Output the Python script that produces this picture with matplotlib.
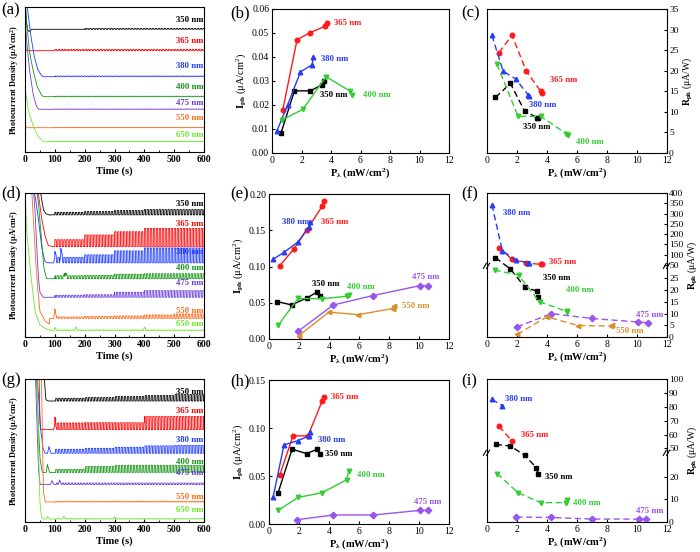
import numpy as np
import matplotlib
matplotlib.use('Agg')
import matplotlib.pyplot as plt
from matplotlib.ticker import MultipleLocator, NullLocator, FormatStrFormatter

plt.rcParams['font.family'] = ['Liberation Serif', 'DejaVu Serif']
plt.rcParams['mathtext.fontset'] = 'custom'
plt.rcParams['mathtext.rm'] = 'Liberation Serif'
plt.rcParams['mathtext.bf'] = 'Liberation Serif:bold'
plt.rcParams['mathtext.it'] = 'Liberation Serif:italic'

# ---------------- data ----------------
WAVES = ['350 nm', '365 nm', '380 nm', '400 nm', '475 nm', '550 nm', '650 nm']
TS_COLORS = ['#000000', '#ff0000', '#1f3cff', '#129412', '#6a3ddb', '#ff6a1a', '#6fe82a']
SC_COLORS = {'350': '#000000', '365': '#ff1a1a', '380': '#2a3cf0', '400': '#33cc33',
             '475': '#9955ee', '550': '#d9902c'}
SC_MARK = {'350': 's', '365': 'o', '380': '^', '400': 'v', '475': 'D', '550': '<'}
CHOP_PERIOD = 10.0  # s, light on/off period

# time series (a): transient points (t, value), plateau level, on/off amplitude per 100 s
A_T = [[1, 3, 8, 14, 22], [0.5, 3, 6], [5, 8, 19, 30, 42, 55, 62], [2, 4, 14, 26, 40, 55, 62],
       [2, 5, 15, 27, 38, 46], [0.5, 2, 3], [1, 11, 28, 45, 62]]
A_V = [[150, 135, 122, 120.5, 122.7], [120, 102, 101.3], [150, 144, 117, 97, 83, 76.5, 75.3],
       [145, 135, 102, 83, 66, 57, 55.3], [125, 112, 82, 58, 46, 42.7], [55, 26, 24.3],
       [62, 42, 25.3, 15.3, 10.3]]
A_BASE = [122.7, 101.3, 75.3, 55.3, 42.7, 24.3, 10.3]
A_AMP = [[0, 0, 0.8, 0.8, 0.8, 0.8], [0, 1.3, 1.3, 1.3, 1.3, 1.3], [0, 0.7, 0.7, 0.7, 0.7, 0.7],
         [0, 0.5, 0.5, 0.5, 0.5, 0.5], [0, 0.3, 0.3, 0.3, 0.3, 0.3], [0, 0.3, 0.3, 0.3, 0.3, 0.3],
         [0, 0.3, 0.3, 0.3, 0.3, 0.3]]
A_BUMPS = [[], [], [], [], [], [], []]
A_LABEL_Y = [132, 111, 86, 64.7, 49.3, 33.7, 17]

# (d)
D_T = [[50, 55, 62, 70, 84], [42, 45, 56, 67, 78, 95], [28, 35, 45, 56, 67, 75],
       [38, 45, 55, 63, 72], [28, 33, 39, 45, 50, 61], [22, 28, 34, 42, 50, 67, 82],
       [0, 5, 17, 34, 50, 67, 84]]
D_V = [[150, 140, 128, 124, 122.7], [150, 144, 119, 102, 92, 91], [150, 140, 119, 90, 76, 74.7],
       [150, 135, 100, 70, 58.7], [150, 130, 92, 60, 45, 40], [150, 120, 86, 50, 26, 16, 13],
       [150, 110, 69, 25, 12, 8.7, 7]]
D_BASE = [123, 91, 74.7, 58.7, 40, 18.7, 6.5]
D_AMP = [[0, 2.5, 3.3, 4.3, 5.3, 5.3], [0, 7, 11.7, 15, 18.3, 18.3], [0, 5.5, 8, 12, 15, 15],
         [0, 3, 3.3, 4.5, 5, 5], [0, 2, 2.5, 5, 6.7, 6.7], [0, 1.5, 2, 2.5, 3.5, 4.5],
         [0, 0.6, 0.6, 0.6, 0.6, 0.6]]
D_BUMPS = [[], [], [(100, 6), (120, 9)], [(134, 5)], [], [(100, 8)], [(100, 2.5), (170, 3), (400, 3)]]
D_LABEL_Y = [134.3, 113.7, 86, 69.7, 54.3, 26.3, 13]

# (g)
G_T = [[64, 67, 70, 78], [47, 50, 53], [40, 45, 52, 60, 67], [38, 43, 50, 58], [35, 40, 45, 50],
       [55, 58, 62, 68], [40, 45, 50, 55, 60]]
G_V = [[150, 135, 124, 122.7], [150, 100, 93.7], [150, 130, 95, 75, 70], [150, 110, 65, 50.3],
       [150, 100, 55, 40], [150, 90, 30, 20.3], [150, 80, 20, 5, 3]]
G_BASE = [122.7, 93.7, 69.7, 50.3, 38, 20.3, 3]
G_AMP = [[0, 2.7, 3.5, 4.5, 5.5, 6.5], [0, 6.7, 7, 7, 13.3, 13.3], [0, 4, 5, 6, 7.5, 8],
         [0, 3, 6, 7, 7, 7], [0, 1.5, 1.5, 1.5, 1.5, 1.5], [0, 0.7, 0.7, 0.7, 0.7, 0.7],
         [0, 0.4, 0.4, 0.4, 0.4, 0.4]]
G_BUMPS = [[], [(100, 6)], [(80, 7)], [(75, 8)], [(90, 4), (115, 3)], [], [(75, 2.5), (130, 2.5), (300, 2)]]
G_LABEL_Y = [132, 113, 83, 61.3, 49.7, 25.3, 11.7]

# (b) Iph vs P
B_X = {'350': [0.61, 1.52, 2.61, 3.38, 3.51], '365': [0.73, 1.7, 2.6, 3.6, 3.72],
       '380': [0.32, 1.07, 1.93, 2.72, 2.8], '400': [0.66, 2.09, 3.67, 5.31, 5.45]}
B_Y = {'350': [0.0083, 0.0259, 0.0259, 0.0284, 0.0298], '365': [0.018, 0.0472, 0.0502, 0.0528, 0.0542],
       '380': [0.009, 0.0202, 0.0338, 0.0368, 0.0398], '400': [0.0137, 0.0182, 0.0318, 0.0257, 0.0242]}
# (c) Rph vs P
C_X = {'350': [0.56, 1.56, 2.51, 3.33, 3.4], '365': [0.8, 1.67, 2.62, 3.58, 3.69],
       '380': [0.33, 1.07, 1.91, 2.73, 2.78], '400': [0.66, 2.07, 3.58, 5.29, 5.4]}
C_Y = {'350': [13.5, 16.9, 10.2, 8.6, 8.6], '365': [24.4, 28.6, 19.9, 15.0, 14.7],
       '380': [28.6, 19.9, 18.0, 14.2, 13.8], '400': [21.6, 8.9, 8.9, 4.7, 4.3]}
# (e)
E_X = {'350': [0.56, 1.51, 2.56, 3.23, 3.43], '365': [0.71, 1.65, 2.54, 3.54, 3.67],
       '380': [0.27, 1.0, 1.94, 2.67, 2.72], '400': [0.62, 1.94, 3.54, 5.2, 5.32],
       '475': [1.94, 4.28, 6.95, 10.07, 10.6], '550': [1.98, 3.99, 5.95, 8.24, 8.35]}
E_Y = {'350': [0.0515, 0.047, 0.057, 0.065, 0.060], '365': [0.101, 0.124, 0.151, 0.183, 0.191],
       '380': [0.110, 0.1195, 0.134, 0.155, 0.161], '400': [0.019, 0.056, 0.0556, 0.059, 0.0607],
       '475': [0.0106, 0.0469, 0.060, 0.0736, 0.0736], '550': [0.0046, 0.037, 0.0336, 0.042, 0.046]}
# (f)
F_X = {'350': [0.56, 1.56, 2.5, 3.33, 3.4], '365': [0.8, 1.67, 2.6, 3.58, 3.69],
       '380': [0.33, 1.02, 1.91, 2.73, 2.8], '400': [0.5, 2.1, 3.5, 5.3, 5.35],
       '475': [2.0, 4.29, 7.0, 10.07, 10.7], '550': [2.0, 4.0, 6.07, 8.24, 8.36]}
F_Y = {'350': [86, 29, 21.5, 19.5, 17.2], '365': [135, 77, 60, 53, 53],
       '380': [343, 120, 74, 61, 60], '400': [28.6, 26.4, 15, 11, 10.8],
       '475': [4.3, 10, 7.9, 6.4, 6.1], '550': [1.1, 8.6, 4.9, 4.7, 5.0]}
# (h)
H_X = {'350': [0.6, 1.54, 2.5, 3.23, 3.39], '365': [0.71, 1.6, 2.6, 3.54, 3.67],
       '380': [0.27, 1.0, 1.94, 2.67, 2.74], '400': [0.62, 1.94, 3.54, 5.17, 5.32],
       '475': [1.89, 4.28, 6.95, 10.07, 10.6]}
H_Y = {'350': [0.0322, 0.0779, 0.0734, 0.0779, 0.0734], '365': [0.0506, 0.0918, 0.0918, 0.128, 0.1327],
       '380': [0.0277, 0.0824, 0.0869, 0.0918, 0.0963], '400': [0.0142, 0.0277, 0.0326, 0.046, 0.0554],
       '475': [0.0045, 0.0094, 0.0094, 0.0142, 0.0142]}
# (i)
I_X = {'350': [0.58, 1.56, 2.51, 3.29, 3.4], '365': [0.8, 1.67], '380': [0.33, 1.02],
       '400': [0.67, 2.07, 3.58, 5.24, 5.33], '475': [1.96, 4.29, 7.0, 10.1, 10.6]}
I_Y = {'350': [52.9, 51.7, 29.6, 24.1, 21.5], '365': [66, 55.3], '380': [85.3, 80.8],
       '400': [21.5, 13, 8.6, 8.6, 9.6], '475': [2.2, 2.0, 1.3, 1.3, 1.3]}

# label positions (x, y)
B_LAB = {'365': (4.2, 0.0543), '380': (3.3, 0.039), '350': (3.25, 0.0242), '400': (6.2, 0.024)}
C_LAB = {'365': (4.2, 17.7), '380': (2.8, 11.6), '350': (2.4, 6.3), '400': (5.9, 2.7)}
E_LAB = {'380': (0.9, 0.162), '365': (3.45, 0.161), '350': (2.85, 0.076), '400': (5.2, 0.072),
         '475': (9.5, 0.086), '550': (8.9, 0.045)}
F_LAB = {'380': (1.07, 302), '365': (4.13, 63), '350': (3.73, 25.3), '400': (5.24, 20),
         '475': (9.9, 9.3), '550': (8.6, 2.6)}
H_LAB = {'365': (4.16, 0.132), '380': (3.27, 0.0876), '350': (3.76, 0.0727), '400': (5.88, 0.0513),
         '475': (9.69, 0.0225)}
I_LAB = {'380': (1.22, 85.3), '365': (2.24, 59.6), '350': (3.84, 20), '400': (5.73, 8.6),
         '475': (9.9, 4.9)}

# ---------------- figure ----------------
fig = plt.figure(figsize=(7, 5.52), dpi=100)


def px_axes(l, r, t, b):
    return fig.add_axes([l / 700, 1 - b / 552, (r - l) / 700, (b - t) / 552])


tgrid = np.arange(0, 600.001, 0.25)


def trace(T, V, base, amps, bumps):
    T = np.asarray(T, float)
    V = np.asarray(V, float)
    y = np.full(tgrid.shape, base, float)
    m = tgrid <= T[-1]
    y[m] = np.interp(tgrid[m], T, V)
    seg = np.minimum((tgrid // 100).astype(int), 5)
    amp = np.asarray(amps, float)[seg]
    on = (np.floor((tgrid - T[-1]) / (CHOP_PERIOD / 2)) % 2) == 1
    y = y + np.where(tgrid > T[-1], amp * on, 0.0)
    for tb, hb in bumps:
        y = y + np.interp(tgrid, [tb - 4, tb, tb + 7], [0, hb, 0])
    keep = tgrid >= T[0]
    return tgrid[keep], y[keep]


def ts_panel(box, Ts, Vs, bases, amps, bumps, laby, letter, lpos):
    ax = px_axes(*box)
    for i in range(7):
        x, y = trace(Ts[i], Vs[i], bases[i], amps[i], bumps[i])
        ax.plot(x, y, color=TS_COLORS[i], lw=0.6)
        ax.text(598, laby[i], WAVES[i], color=TS_COLORS[i], fontsize=6.3, fontweight='bold',
                ha='right', va='center')
    ax.set_xlim(0, 600)
    ax.set_ylim(0, 145)
    ax.set_yticks([])
    ax.xaxis.set_major_locator(MultipleLocator(100))
    ax.xaxis.set_minor_locator(MultipleLocator(50))
    ax.tick_params(axis='x', which='both', direction='in', labelsize=7, length=2.5, pad=2)
    ax.tick_params(axis='x', which='minor', length=1.5)
    for lab in ax.get_xticklabels():
        lab.set_fontweight('bold')
    ax.set_xlabel('Time (s)', fontsize=7.5, fontweight='bold', labelpad=2)
    ax.set_ylabel('Photocurrent Density (μA/cm$^{\\mathbf{2}}$)', fontsize=5.9, fontweight='bold', labelpad=3)
    fig.text(lpos[0] / 700, 1 - lpos[1] / 552, letter, fontsize=12, ha='left', va='center')
    return ax


ts_panel((25, 204, 7, 152), A_T, A_V, A_BASE, A_AMP, A_BUMPS, A_LABEL_Y, '(a)', (1, 10))
ts_panel((25, 204, 193, 337), D_T, D_V, D_BASE, D_AMP, D_BUMPS, D_LABEL_Y, '(d)', (1, 193))
ts_panel((25, 204, 379, 522), G_T, G_V, G_BASE, G_AMP, G_BUMPS, G_LABEL_Y, '(g)', (1, 380))


def make_scale(vals, fracs):
    vals = np.asarray(vals, float)
    fracs = np.asarray(fracs, float)

    def conv(v, a, b):
        v = np.asarray(v, float)
        out = np.interp(v, a, b)
        s0 = (b[1] - b[0]) / (a[1] - a[0])
        s1 = (b[-1] - b[-2]) / (a[-1] - a[-2])
        out = np.where(v < a[0], b[0] + (v - a[0]) * s0, out)
        out = np.where(v > a[-1], b[-1] + (v - a[-1]) * s1, out)
        return out

    return (lambda v: conv(v, vals, fracs)), (lambda f: conv(f, fracs, vals))


def sc_panel(box, X, Y, LAB, dashed, letter, lpos, right=False):
    ax = px_axes(*box)
    for k in X:
        kw = dict(color=SC_COLORS[k], marker=SC_MARK[k], ms=3.3, lw=1.0)
        if dashed:
            kw.update(ls='--', dashes=(4.5, 2.5))
        ax.plot(X[k], Y[k], **kw)
    for k, (lx, ly) in LAB.items():
        ax.text(lx, ly, k + ' nm', color=SC_COLORS[k], fontsize=6.3, fontweight='bold',
                ha='left', va='center')
    ax.set_xlim(0, 12)
    ax.xaxis.set_major_locator(MultipleLocator(2))
    ax.tick_params(which='both', direction='in', labelsize=7, length=2.5, pad=2)
    ax.set_xlabel('P$_{\\mathbf{λ}}$ (mW/cm$^{\\mathbf{2}}$)', fontsize=7.5, fontweight='bold', labelpad=1)
    if right:
        ax.yaxis.tick_right()
        ax.yaxis.set_label_position('right')
        ax.tick_params(axis='y', pad=1.5, labelsize=6.8)
        ax.set_ylabel('$\\mathbf{R_{ph}}$ (μA/W)', fontsize=7, labelpad=1)
    else:
        ax.set_ylabel('$\\mathbf{I_{ph}}$ (μA/cm$^{2}$)', fontsize=7.5, labelpad=2)
    fig.text(lpos[0] / 700, 1 - lpos[1] / 552, letter, fontsize=12, ha='left', va='center')
    return ax


def break_marks(ax, yf):
    for x0 in (0, 1):
        for dx in (-0.012, 0.006):
            ax.plot([x0 + dx - 0.008, x0 + dx + 0.008], [yf - 0.018, yf + 0.018],
                    transform=ax.transAxes, color='k', lw=0.8, clip_on=False)


# (b)
ax = sc_panel((272, 449, 9, 153), B_X, B_Y, B_LAB, False, '(b)', (230, 13))
ax.set_ylim(0, 0.06)
ax.yaxis.set_major_locator(MultipleLocator(0.01))
ax.yaxis.set_major_formatter(FormatStrFormatter('%.2f'))

# (c)
ax = sc_panel((487, 667, 9, 153), C_X, C_Y, C_LAB, True, '(c)', (461, 13), right=True)
ax.set_ylim(0, 35)
ax.yaxis.set_major_locator(MultipleLocator(5))

# (e)
ax = sc_panel((269, 449, 194, 339), E_X, E_Y, E_LAB, False, '(e)', (230, 194))
ax.set_ylim(0, 0.20)
ax.yaxis.set_major_locator(MultipleLocator(0.05))
ax.yaxis.set_major_formatter(FormatStrFormatter('%.2f'))

# (f)
ax = sc_panel((487, 667, 193, 337), F_X, F_Y, F_LAB, True, '(f)', (461, 194), right=True)
fw, iv = make_scale([0, 30, 50, 400], [0, 0.488, 0.5, 1.0])
ax.set_yscale('function', functions=(fw, iv))
ax.set_ylim(0, 400)
ax.set_yticks([0, 5, 10, 15, 20, 25, 50, 100, 150, 200, 250, 300, 350, 400])
ax.yaxis.set_minor_locator(NullLocator())
break_marks(ax, 0.494)

# (h)
ax = sc_panel((269, 449, 380, 524), H_X, H_Y, H_LAB, False, '(h)', (230, 381))
ax.set_ylim(0, 0.15)
ax.yaxis.set_major_locator(MultipleLocator(0.05))
ax.yaxis.set_major_formatter(FormatStrFormatter('%.2f'))

# (i)
ax = sc_panel((487, 667, 379, 522), I_X, I_Y, I_LAB, True, '(i)', (461, 381), right=True)
fw2, iv2 = make_scale([0, 30, 48, 100], [0, 0.473, 0.495, 1.0])
ax.set_yscale('function', functions=(fw2, iv2))
ax.set_ylim(0, 100)
ax.set_yticks([0, 10, 20, 50, 60, 70, 80, 90, 100])
ax.yaxis.set_minor_locator(NullLocator())
break_marks(ax, 0.484)

fig.savefig('out.png', dpi=100)
